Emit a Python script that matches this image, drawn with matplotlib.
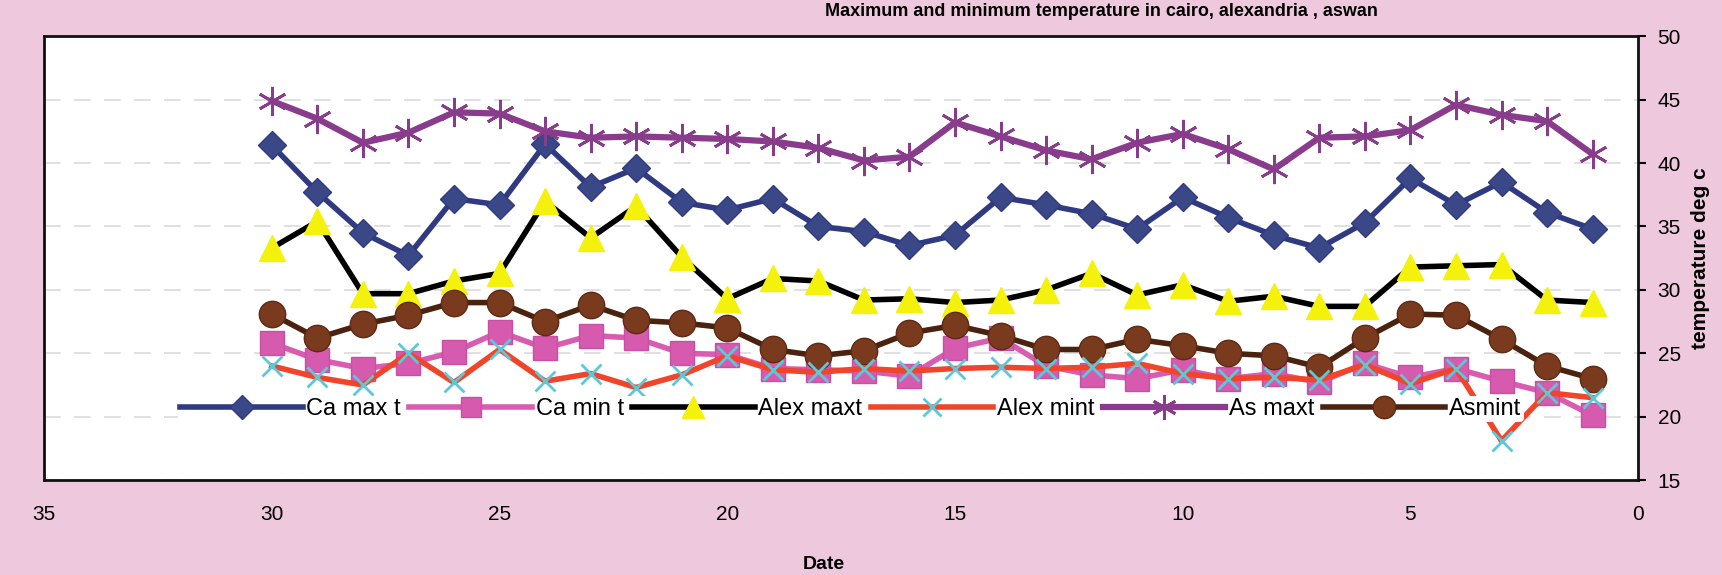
import matplotlib
matplotlib.use("Agg")
import matplotlib.pyplot as plt

plt.rcParams['font.family'] = ['Liberation Sans', 'DejaVu Sans']

# days of the month, plotted from 30 down to 1
days = list(range(30, 0, -1))

ca_max = [41.4, 37.7, 34.5, 32.7, 37.2, 36.7, 41.5, 38.1, 39.6, 36.9,
          36.3, 37.2, 35.0, 34.6, 33.5, 34.3, 37.3, 36.7, 36.0, 34.8,
          37.3, 35.7, 34.3, 33.3, 35.3, 38.8, 36.7, 38.5, 36.1, 34.8]
ca_min = [25.8, 24.5, 23.8, 24.2, 25.1, 26.7, 25.4, 26.4, 26.2, 25.0,
          24.9, 23.8, 23.7, 23.6, 23.2, 25.4, 26.2, 24.0, 23.3, 23.0,
          23.7, 23.0, 23.4, 22.7, 24.2, 23.1, 23.8, 22.8, 21.9, 20.1]
alex_max = [33.3, 35.4, 29.7, 29.7, 30.7, 31.3, 37.0, 34.1, 36.6, 32.6,
            29.3, 30.9, 30.7, 29.2, 29.3, 29.0, 29.2, 30.0, 31.3, 29.6,
            30.4, 29.1, 29.5, 28.7, 28.7, 31.8, 31.9, 32.0, 29.2, 29.0]
alex_min = [24.0, 23.1, 22.5, 25.0, 22.7, 25.3, 22.8, 23.4, 22.3, 23.3,
            24.8, 23.7, 23.5, 23.8, 23.6, 23.8, 23.9, 23.8, 23.9, 24.2,
            23.4, 23.0, 23.1, 22.9, 24.1, 22.6, 23.8, 18.1, 21.9, 21.5]
as_max = [44.9, 43.5, 41.6, 42.4, 44.0, 43.9, 42.5, 42.0, 42.1, 42.0,
          41.9, 41.7, 41.2, 40.2, 40.5, 43.2, 42.1, 41.0, 40.3, 41.6,
          42.3, 41.1, 39.5, 42.0, 42.1, 42.6, 44.6, 43.8, 43.3, 40.7]
as_min = [28.1, 26.2, 27.3, 28.0, 29.0, 29.0, 27.5, 28.8, 27.6, 27.4,
          27.0, 25.3, 24.8, 25.2, 26.6, 27.2, 26.4, 25.3, 25.3, 26.1,
          25.6, 25.0, 24.8, 23.9, 26.2, 28.1, 28.0, 26.1, 24.0, 23.0]

x_ticks = [35, 30, 25, 20, 15, 10, 5, 0]
y_ticks = [15, 20, 25, 30, 35, 40, 45, 50]

pink = '#EEC9DD'
fig = plt.figure(figsize=(17.22, 5.75), dpi=100, facecolor=pink)
ax = fig.add_axes([0.0256, 0.165, 0.9257, 0.772])
ax.set_facecolor('white')

ax.plot(days, ca_max, color='#2F3A80', lw=4, marker='D', ms=14,
        mfc='#3A4888', mec='#2F3A80', label='Ca max t', zorder=3)
ax.plot(days, ca_min, color='#D85CB0', lw=4, marker='s', ms=17,
        mfc='#D65AAE', mec='#C94FA2', label='Ca min t', zorder=3)
ax.plot(days, alex_max, color='black', lw=4, marker='^', ms=19,
        mfc='#F4F20C', mec='#F4F20C', label='Alex maxt', zorder=3)
ax.plot(days, alex_min, color='#F0452A', lw=4, marker='x', ms=15, mew=2,
        mec='#5CC8D8', label='Alex mint', zorder=4)
ax.plot(days, as_max, color='#8A3C8C', lw=4.5, marker=(6, 2, 0), ms=21, mew=2,
        mec='#8A3C8C', label='As maxt', zorder=3)
ax.plot(days, as_min, color='#4A2210', lw=4, marker='o', ms=19,
        mfc='#7A3A1E', mec='#5E2A14', label='Asmint', zorder=3)

ax.set_xlim(35, 0)
ax.set_ylim(15, 50)
ax.set_xticks(x_ticks)
ax.set_yticks(y_ticks)
ax.yaxis.tick_right()
ax.yaxis.set_label_position('right')
ax.tick_params(axis='y', direction='out', length=6, width=1.5, pad=8, labelsize=15)
ax.tick_params(axis='x', length=0, pad=18, labelsize=15)

ax.yaxis.grid(True, color='#dadada', linestyle=(0, (10, 8)), lw=1.2)
ax.set_axisbelow(True)
for s in ax.spines.values():
    s.set_linewidth(2)
    s.set_color('#111111')

ax.set_xlabel('Date', fontsize=14, fontweight='bold')
ax.xaxis.set_label_coords(0.489, -0.17)
ax.set_ylabel('temperature deg c', fontsize=15, fontweight='bold')
ax.yaxis.set_label_coords(1.033, 0.5)

leg = ax.legend(loc='center', bbox_to_anchor=(0.506, 0.16), ncol=6, fontsize=17,
                frameon=True, facecolor='white', edgecolor='none', framealpha=1,
                handlelength=5.2, handletextpad=0.15, columnspacing=0.35,
                borderpad=0.1, markerscale=0.85)
leg.set_zorder(6)

fig.text(0.80, 0.972, 'Maximum and minimum temperature in cairo, alexandria , aswan',
         ha='right', va='baseline', fontsize=13, fontweight='bold')

fig.savefig('out.png', dpi=100, facecolor=pink)
